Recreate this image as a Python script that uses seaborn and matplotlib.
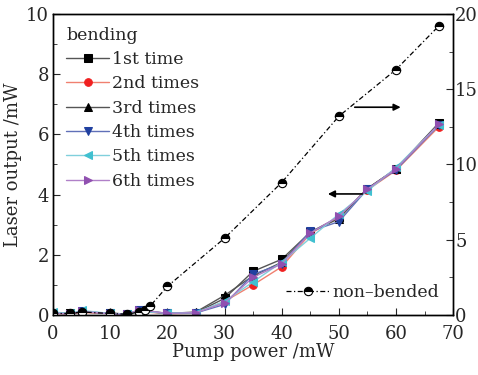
import numpy as np
import pandas as pd
import matplotlib
matplotlib.use("Agg")
import matplotlib.pyplot as plt
import seaborn as sns
from matplotlib.ticker import MultipleLocator

# ---- data ----
pump_bend = [0, 3, 5, 10, 13, 15, 20, 25, 30, 35, 40, 45, 50, 55, 60, 67.5]
bend_1st = [0.08, 0.05, 0.10, 0.06, 0.03, 0.15, 0.06, 0.08, 0.55, 1.45, 1.85, 2.75, 3.25, 4.20, 4.85, 6.38]
bend_2nd = [0.05, 0.04, 0.08, 0.05, 0.02, 0.12, 0.04, 0.06, 0.45, 1.00, 1.60, 2.70, 3.25, 4.15, 4.80, 6.25]
bend_3rd = [0.06, 0.05, 0.10, 0.06, 0.03, 0.14, 0.05, 0.10, 0.65, 1.30, 1.75, 2.75, 3.20, 4.20, 4.85, 6.35]
bend_4th = [0.07, 0.04, 0.12, 0.05, 0.02, 0.16, 0.05, 0.07, 0.35, 1.35, 1.70, 2.78, 3.10, 4.18, 4.82, 6.30]
bend_5th = [0.10, 0.05, 0.15, 0.05, 0.03, 0.12, 0.06, 0.08, 0.45, 1.10, 1.75, 2.55, 3.35, 4.12, 4.90, 6.32]
bend_6th = [0.06, 0.04, 0.12, 0.04, 0.02, 0.18, 0.05, 0.08, 0.40, 1.25, 1.70, 2.72, 3.28, 4.18, 4.85, 6.33]
labels = ["1st time", "2nd times", "3rd times", "4th times", "5th times", "6th times"]

pump_nb = [0, 3, 5, 10, 13, 15, 16, 17, 20, 30, 40, 50, 60, 67.5]
nonbended = [0.1, 0.1, 0.2, 0.1, 0.05, 0.2, 0.3, 0.6, 1.9, 5.1, 8.8, 13.2, 16.3, 19.2]

sns.set_style("ticks")
plt.rcParams["font.family"] = ["DejaVu Serif"]
plt.rcParams["mathtext.default"] = "regular"

fig, ax = plt.subplots(figsize=(4.78, 3.75), dpi=100)
fig.subplots_adjust(left=0.111, right=0.948, top=0.963, bottom=0.16)

series = [bend_1st, bend_2nd, bend_3rd, bend_4th, bend_5th, bend_6th]
markers = ["s", "o", "^", "v", "<", ">"]
mcolors = ["#000000", "#f02020", "#000000", "#2040a0", "#40c0d0", "#9050b0"]
lcolors = ["#555555", "#f08070", "#555555", "#6070b8", "#80d0dc", "#b080c8"]

df = pd.DataFrame({"pump": pump_bend})
for lab, s in zip(labels, series):
    df[lab] = s

for lab, m, mc, lc in zip(labels, markers, mcolors, lcolors):
    sns.lineplot(data=df, x="pump", y=lab, ax=ax, color=lc, lw=1.0,
                 marker=m, markersize=5.5, markerfacecolor=mc, markeredgecolor=mc,
                 label=lab)

ax.set_xlim(0, 70)
ax.set_ylim(0, 10)
ax.xaxis.set_major_locator(MultipleLocator(10))
ax.xaxis.set_minor_locator(MultipleLocator(5))
ax.yaxis.set_major_locator(MultipleLocator(2))
ax.yaxis.set_minor_locator(MultipleLocator(1))
ax.tick_params(which="both", direction="in", labelsize=13, top=False, pad=3)
ax.tick_params(axis="x", which="both", pad=7)
ax.tick_params(which="major", length=5)
ax.tick_params(which="minor", length=3)
ax.set_xlabel("Pump power /mW", fontsize=13, labelpad=0)
ax.set_ylabel("Laser output /mW", fontsize=13, labelpad=3)

leg = ax.legend(title="bending", loc="upper left", frameon=False, fontsize=12.5,
                title_fontsize=12.5, handlelength=2.5, handletextpad=0.15,
                labelspacing=0.42, borderaxespad=0.35, alignment="left")

ax2 = ax.twinx()
nbdf = pd.DataFrame({"pump": pump_nb, "nb": nonbended})
sns.lineplot(data=nbdf, x="pump", y="nb", ax=ax2, color="black", lw=0.9,
             linestyle=(0, (4, 2, 1, 2)), marker="o", markersize=6,
             markerfacecolor="black", markerfacecoloralt="white",
             markeredgecolor="black", markeredgewidth=0.8, fillstyle="top",
             label="non\u2013bended")
ax2.set_ylim(0, 20)
ax2.set_ylabel("")
ax2.yaxis.set_major_locator(MultipleLocator(5))
ax2.yaxis.set_minor_locator(MultipleLocator(2.5))
ax2.tick_params(which="both", direction="in", labelsize=13, pad=1.5)
ax2.tick_params(which="major", length=5)
ax2.tick_params(which="minor", length=3)
ax2.legend(loc="lower right", frameon=False, fontsize=12.5, handlelength=2.5,
           handletextpad=0.15, borderaxespad=0.4)

for sp in list(ax.spines.values()) + list(ax2.spines.values()):
    sp.set_linewidth(1.0)
    sp.set_color("black")

# arrows indicating axes
ax.annotate("", xy=(61.3, 6.9), xytext=(52.3, 6.9),
            arrowprops=dict(arrowstyle="-|>", color="black", lw=1.2))
ax.annotate("", xy=(47.6, 4.02), xytext=(54.6, 4.02),
            arrowprops=dict(arrowstyle="-|>", color="black", lw=1.2))

fig.savefig("out.png", dpi=100)
